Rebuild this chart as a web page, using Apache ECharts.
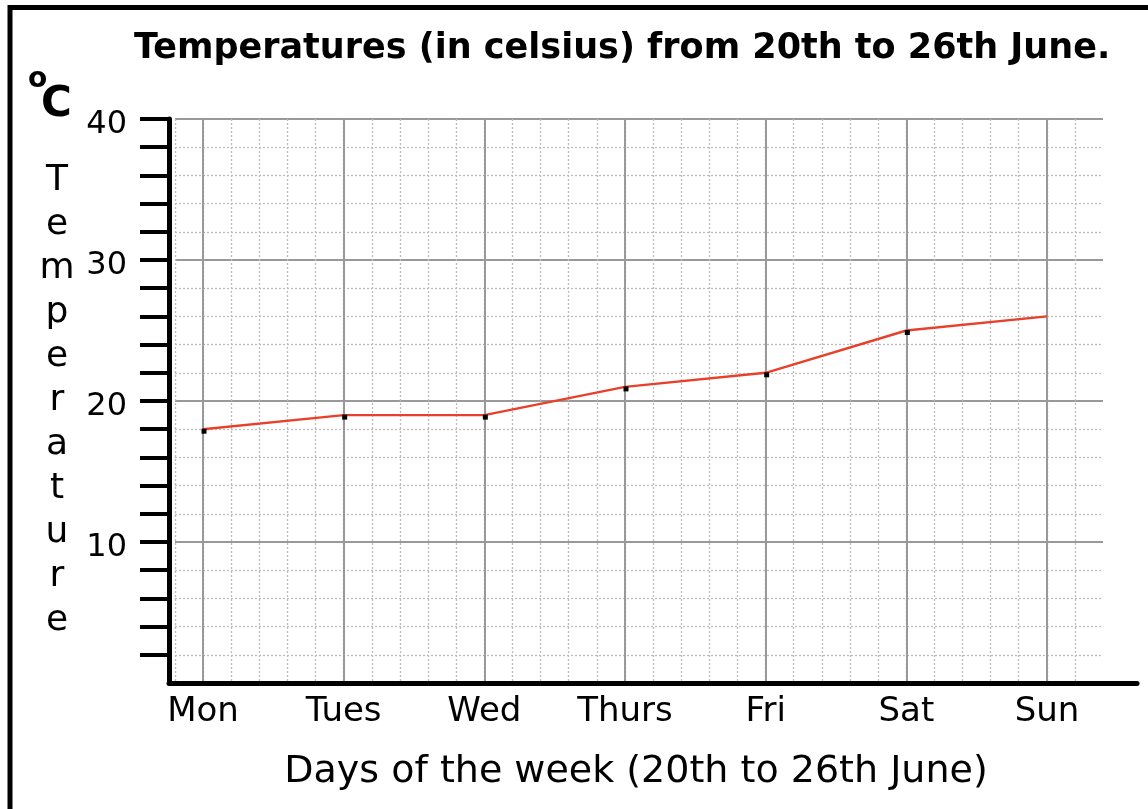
<!DOCTYPE html>
<html lang="en">

<head>
    <meta charset="utf-8" />
    <title>Temperatures 20th to 26th June</title>
    <script src="https://cdn.jsdelivr.net/npm/echarts@6.0.0/dist/echarts.min.js"></script>
    <style>
        html, body { margin: 0; padding: 0; background: #fff; }
        #chart { width: 1148px; height: 809px; }
    </style>
</head>

<body>
    <div id="chart"></div>
    <script type="text/javascript">
        // data
        var days = ['Mon', 'Tues', 'Wed', 'Thurs', 'Fri', 'Sat', 'Sun'];
        var temps = [18, 19, 19, 21, 22, 25, 26];
        var yTickValues = [2, 4, 6, 8, 10, 12, 14, 16, 18, 20, 22, 24, 26, 28, 30, 32, 34, 36, 38, 40];
        var yLabelValues = [10, 20, 30, 40];
        var titleText = 'Temperatures (in celsius) from 20th to 26th June.';
        var xName = 'Days of the week (20th to 26th June)';
        var yName = 'Temperature';

        var font = "'Comic Sans MS', 'DejaVu Sans', sans-serif";
        var gridGrey = '#999999';
        var dotGrey = '#bbbbbb';

        // last point has no marker in the original
        var lineData = temps.map(function (v, i) {
            return i === temps.length - 1 ? { value: v, symbol: 'none' } : v;
        });

        var chart = echarts.init(document.getElementById('chart'));

        var option = {
            backgroundColor: '#fff',
            animation: false,
            title: [
                {
                    text: titleText,
                    left: 134,
                    top: 31,
                    padding: 0,
                    textStyle: { fontFamily: font, fontSize: 35, fontWeight: 'bold', color: '#000' }
                },
                {
                    text: 'o',
                    left: 28,
                    top: 66,
                    padding: 0,
                    textStyle: { fontFamily: font, fontSize: 28, fontWeight: 'bold', color: '#000' }
                },
                {
                    text: 'C',
                    left: 41,
                    top: 84,
                    padding: 0,
                    textStyle: { fontFamily: font, fontSize: 42, fontWeight: 'bold', color: '#000' }
                }
            ],
            graphic: [
                {
                    type: 'rect',
                    shape: { x: 10, y: 7.5, width: 1300, height: 900 },
                    style: { fill: null, stroke: '#000', lineWidth: 5 },
                    silent: true
                }
            ],
            grid: [
                // dotted minor grid
                { left: 175, right: 45, top: 119, bottom: 126 },
                // category grid: Mon .. Sun
                { left: 203, right: 101, top: 119, bottom: 126 },
                // black axis lines, ticks, labels
                { left: 169, right: 11, top: 119, bottom: 126 }
            ],
            xAxis: [
                {
                    gridIndex: 0,
                    type: 'value',
                    min: -0.2,
                    max: 6.4,
                    interval: 0.2,
                    axisLine: { show: false },
                    axisTick: { show: false },
                    axisLabel: { show: false },
                    splitLine: {
                        show: true,
                        showMaxLine: false,
                        lineStyle: { color: dotGrey, width: 1.3, type: [2, 2] }
                    }
                },
                {
                    gridIndex: 1,
                    type: 'category',
                    data: days,
                    boundaryGap: false,
                    axisLine: { show: false },
                    axisTick: { show: false },
                    axisLabel: {
                        interval: 0,
                        margin: 12,
                        fontFamily: font,
                        fontSize: 34,
                        color: '#000'
                    },
                    splitLine: { show: true, interval: 0, lineStyle: { color: gridGrey, width: 2 } }
                },
                {
                    gridIndex: 2,
                    type: 'value',
                    min: 0,
                    max: 1,
                    z: 5,
                    axisLine: { show: true, lineStyle: { color: '#000', width: 5 } },
                    axisTick: { show: false },
                    axisLabel: { show: false },
                    splitLine: { show: false },
                    name: xName,
                    nameLocation: 'middle',
                    nameGap: 70,
                    nameTextStyle: { fontFamily: font, fontSize: 38, color: '#000', padding: [0, 34, 0, 0] }
                }
            ],
            yAxis: [
                {
                    gridIndex: 0,
                    type: 'value',
                    min: 0,
                    max: 40,
                    interval: 10,
                    axisLine: { show: false },
                    axisTick: { show: false },
                    axisLabel: { show: false },
                    splitLine: { show: true, lineStyle: { color: gridGrey, width: 2 } },
                    minorTick: { show: false, splitNumber: 5 },
                    minorSplitLine: { show: true, lineStyle: { color: dotGrey, width: 1.3, type: [2, 2] } }
                },
                {
                    gridIndex: 1,
                    type: 'value',
                    min: 0,
                    max: 40,
                    show: false
                },
                {
                    gridIndex: 2,
                    type: 'value',
                    min: 0,
                    max: 40,
                    interval: 2,
                    z: 5,
                    axisLine: { show: true, lineStyle: { color: '#000', width: 5 } },
                    axisTick: {
                        show: true,
                        customValues: yTickValues,
                        length: 29,
                        lineStyle: { color: '#000', width: 4 }
                    },
                    axisLabel: {
                        customValues: yLabelValues,
                        margin: 42,
                        fontFamily: font,
                        fontSize: 32,
                        verticalAlign: 'top',
                        lineHeight: 12,
                        color: '#000'
                    },
                    splitLine: { show: false },
                    name: yName.split('').join('\n'),
                    nameLocation: 'middle',
                    nameRotate: 0,
                    nameGap: 112,
                    nameTextStyle: {
                        fontFamily: font,
                        fontSize: 36,
                        lineHeight: 44,
                        align: 'center',
                        verticalAlign: 'middle',
                        color: '#000'
                    }
                }
            ],
            series: [
                {
                    type: 'line',
                    xAxisIndex: 1,
                    yAxisIndex: 1,
                    data: lineData,
                    symbol: 'rect',
                    symbolSize: 5,
                    symbolOffset: [1, 2],
                    showAllSymbol: true,
                    itemStyle: { color: '#000' },
                    lineStyle: { color: '#e8402a', width: 2.4 },
                    z: 10
                }
            ]
        };

        chart.setOption(option);
    </script>
</body>

</html>
